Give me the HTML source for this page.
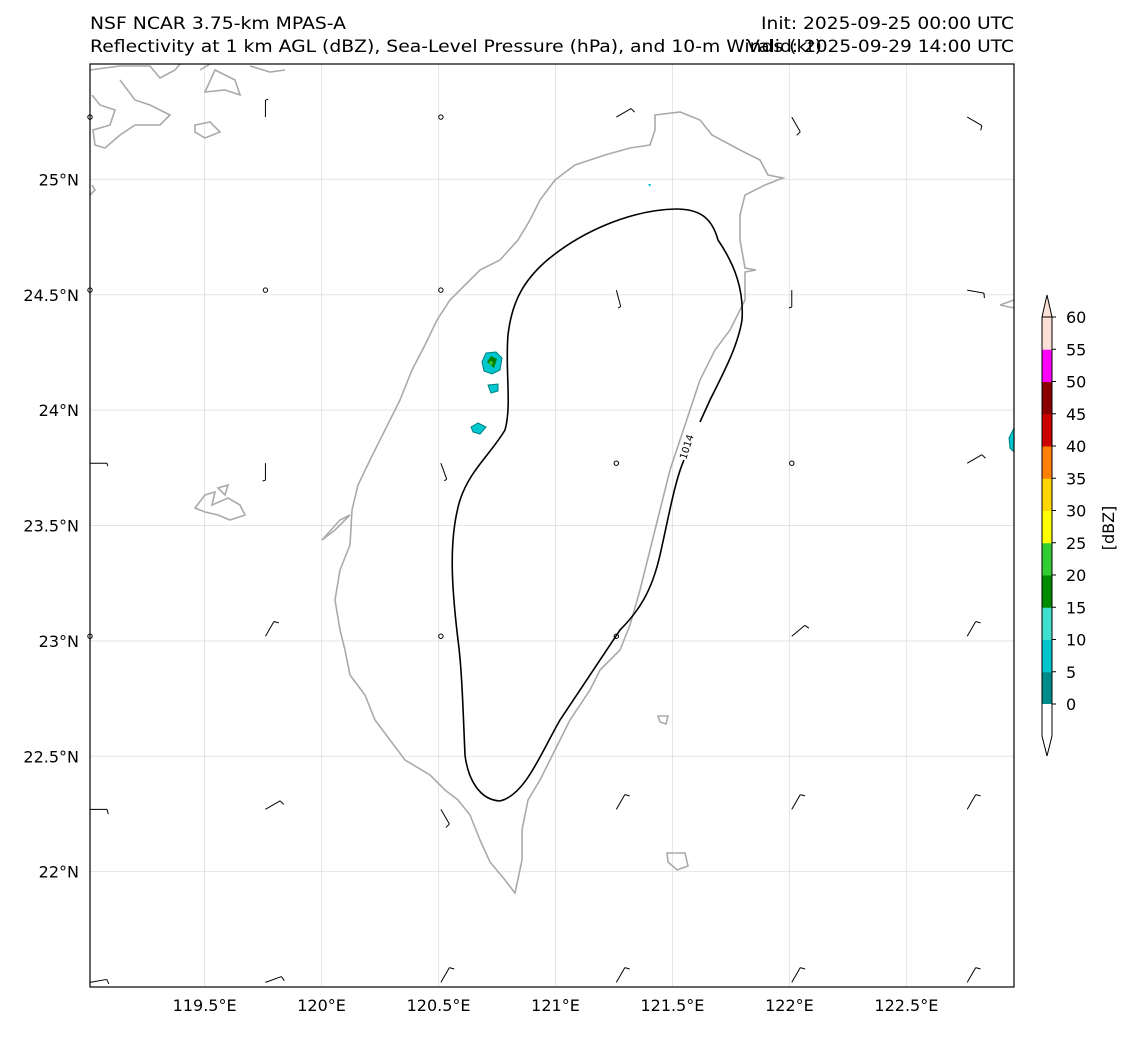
<!DOCTYPE html>
<html><head><meta charset="utf-8"><style>
body{margin:0;background:#fff;font-family:"Liberation Sans","DejaVu Sans",sans-serif;}
svg text{font-family:"DejaVu Sans","Liberation Sans",sans-serif;}
</style></head><body>
<svg id="fig" width="1133" height="1032" xmlns="http://www.w3.org/2000/svg">
<text x="90" y="29" font-size="17" textLength="256" lengthAdjust="spacingAndGlyphs">NSF NCAR 3.75-km MPAS-A</text>
<text x="90" y="52" font-size="17" textLength="732" lengthAdjust="spacingAndGlyphs">Reflectivity at 1 km AGL (dBZ), Sea-Level Pressure (hPa), and 10-m Winds (kt)</text>
<text x="761" y="29" font-size="17" textLength="253" lengthAdjust="spacingAndGlyphs">Init: 2025-09-25 00:00 UTC</text>
<text x="747" y="52" font-size="17" textLength="267" lengthAdjust="spacingAndGlyphs">Valid: 2025-09-29 14:00 UTC</text>
<g id="map">
<rect x="90" y="64" width="924" height="923" fill="#fff"/>
<g id="grid"></g>
<g fill="none" stroke="#aaa" stroke-width="1.6">
<path d="M655,115 L680,112 L700,120 L712,135 L740,150 L760,160 L768,175 L783,178 L765,185 L745,195 L740,215 L740,240 L745,268 L756,270 L745,272 L745,300 L730,330 L715,350 L700,380 L690,410 L680,440 L670,470 L660,510 L650,550 L640,590 L630,625 L620,650 L600,670 L590,690 L570,720 L555,750 L540,780 L528,800 L522,830 L522,860 L515,893 L505,880 L490,862 L480,840 L470,815 L458,800 L445,790 L430,775 L405,760 L390,740 L375,720 L365,695 L350,675 L345,650 L340,630 L335,600 L340,570 L350,545 L352,510 L358,485 L370,460 L385,430 L400,400 L412,370 L425,345 L437,320 L450,300 L465,285 L480,270 L500,260 L518,240 L530,220 L540,200 L555,180 L575,165 L605,155 L630,148 L650,145 L655,130 Z"/>
<path d="M195,508 L205,495 L215,492 L212,505 L228,498 L240,505 L245,515 L230,520 L218,515 L205,512 Z M218,488 L228,485 L225,495 Z"/>
<path d="M322,540 L340,520 L350,515 L335,530 Z"/>
<path d="M658,716 L668,716 L666,724 L660,722 Z"/>
<path d="M667,853 L685,853 L688,866 L677,870 L668,862 Z"/>
<path d="M90,70 L120,66 L150,66 L160,78 L175,70 L180,64 M120,80 L135,100 L150,105 L170,115 L160,125 L135,125 L120,135 L105,148 L95,145 L93,130 L110,125 L115,110 L100,105 L92,95 M195,125 L210,122 L220,132 L205,138 L195,132 Z M200,70 L210,64 M215,70 L235,80 L240,95 L225,90 L205,92 Z M250,66 L270,72 L285,70 M92,185 L95,190 L90,195"/>
<path d="M1000,305 L1014,300 M1000,305 L1014,308"/>
</g>
<g>
<path d="M482,362 L486,353 L496,352 L502,358 L500,370 L492,374 L484,371 Z" fill="#00c8d0" stroke="#008080"/>
<path d="M487,362 L491,356 L497,359 L494,368 Z" fill="#008000"/>
<circle cx="491" cy="363" r="2" fill="#30c030"/>
<path d="M488,385 L498,384 L498,391 L491,393 Z" fill="#00c8d0" stroke="#008080"/>
<path d="M471,427 L478,423 L486,427 L480,434 L473,432 Z" fill="#00c8d0" stroke="#008080"/>
<path d="M648,184 L651,184 L650,187 Z" fill="#00c8d0"/>
<path d="M1014,428 L1009,438 L1010,448 L1014,452 Z" fill="#00c8d0" stroke="#008080"/>
</g>
<path fill="none" stroke="#000" stroke-width="1.6" d="M684,460 C675,480 668,520 660,555 C652,590 640,610 620,630 C600,660 580,690 560,720 C540,755 525,795 500,801 C480,800 468,780 465,755 C463,710 462,670 458,640 C452,590 448,540 460,500 C470,470 490,455 505,430 C512,405 505,370 508,335 C512,300 525,280 545,262 C580,232 630,210 676,209 C700,209 712,218 718,240 C735,265 744,290 742,320 C738,345 725,370 710,400 L700,422"/>
<text x="0" y="0" font-size="10" transform="translate(686,460) rotate(-72)">1014</text>
<g id="barbs"></g>
<rect x="90" y="64" width="924" height="923" fill="none" stroke="#000" stroke-width="1.2"/>
</g>
<g id="ticks"></g>
<g id="cbar"></g>
<text x="0" y="0" font-size="16" transform="translate(1114,528) rotate(-90)" text-anchor="middle">[dBZ]</text>
</svg>
<script>
const lonTicks=[119.5,120,120.5,121,121.5,122,122.5];
const latTicks=[25,24.5,24,23.5,23,22.5,22];
const cbLevels=[0,5,10,15,20,25,30,35,40,45,50,55,60];
const cbColors=["#008b8b","#00c5cd","#40e0d0","#008b00","#32cd32","#ffff00","#ffd700","#ff7f00","#cd0000","#8b0000","#ff00ff","#fbe0d8"];
// wind barbs: [lon, lat, speedKt, dirDeg (direction shaft points toward)]
const barbLon=[119.01,119.76,120.51,121.26,122.01,122.76];
const barbLat=[25.27,24.52,23.77,23.02,22.27,21.52];
const barbSpd=[
[0,3,0,5,5,5],[0,0,0,3,3,5],[3,3,3,0,0,5],[0,5,0,0,5,5],[5,5,5,5,5,5],[5,5,5,5,5,5]];
const barbDir=[
[0,0,0,60,150,120],[0,0,0,165,180,100],[90,180,160,0,0,60],[0,30,0,0,50,30],[90,60,150,30,30,30],[80,70,30,30,30,30]];
const NS="http://www.w3.org/2000/svg";
const xL=90,xR=1014,yT=64,yB=987;
const lonMin=119.01,lonMax=122.96,latMin=21.5,latMax=25.5;
const X=l=>xL+(l-lonMin)/(lonMax-lonMin)*(xR-xL);
const Y=l=>yB-(l-latMin)/(latMax-latMin)*(yB-yT);
function mk(t,a,p){const e=document.createElementNS(NS,t);for(const k in a)e.setAttribute(k,a[k]);p.appendChild(e);return e;}
const grid=document.getElementById('grid'),ticks=document.getElementById('ticks');
lonTicks.forEach(l=>{
 const g=mk('line',{x1:X(l),x2:X(l),y1:yT,y2:yB,stroke:'#ccc','stroke-opacity':0.5,'stroke-width':1},grid);
 
 
 const t=mk('text',{x:X(l),y:1011,'font-size':16,'text-anchor':'middle'},ticks);t.textContent=l+'°E';
 
 
});
latTicks.forEach(l=>{
 const g=mk('line',{x1:xL,x2:xR,y1:Y(l),y2:Y(l),stroke:'#ccc','stroke-opacity':0.5,'stroke-width':1},grid);
 
 
 const t=mk('text',{x:79,y:Y(l)+6,'font-size':16,'text-anchor':'end'},ticks);t.textContent=l+'°N';
 
 
});
const barbs=document.getElementById('barbs');
barbLat.forEach((la,i)=>barbLon.forEach((lo,j)=>{
 const x=X(lo),y=Y(la),s=barbSpd[i][j],d=barbDir[i][j]*Math.PI/180;
 const g=mk('g',{},barbs);
 
 
 if(s<2.5){mk('circle',{cx:x,cy:y,r:2.2,fill:'none',stroke:'#000','stroke-width':1},g);return;}
 const L=17,ex=x+L*Math.sin(d),ey=y-L*Math.cos(d);
 mk('line',{x1:x,y1:y,x2:ex,y2:ey,stroke:'#000','stroke-width':1},g);
 const fl=s>=5?5:3, fx=ex+fl*Math.sin(d+Math.PI/2.4), fy=ey-fl*Math.cos(d+Math.PI/2.4);
 mk('line',{x1:ex,y1:ey,x2:fx,y2:fy,stroke:'#000','stroke-width':1},g);
}));
const cb=document.getElementById('cbar');
const cx=1042,cw=10,c0=704,step=(704-317)/12;
const CY=v=>c0-v/5*step;
cbColors.forEach((c,i)=>{
 const r=mk('rect',{x:cx,y:CY(cbLevels[i+1]),width:cw,height:step+0.5,fill:c},cb);
 
 
});
mk('rect',{x:cx,y:c0,width:cw,height:32,fill:'#fff'},cb);
mk('path',{d:`M${cx},317 L${cx+5},295 L${cx+10},317 Z`,fill:'#fbe0d8',stroke:'#000'},cb);
mk('path',{d:`M${cx},736 L${cx+5},756 L${cx+10},736 L${cx+10},317 M${cx},317 L${cx},736`,fill:'none',stroke:'#000'},cb);
cbLevels.forEach(v=>{
 mk('line',{x1:cx+10,x2:cx+14,y1:CY(v),y2:CY(v),stroke:'#000'},cb);
 const t=mk('text',{x:1066,y:CY(v)+6,'font-size':16},cb);t.textContent=v;
 
 
});
</script>
</body></html>
